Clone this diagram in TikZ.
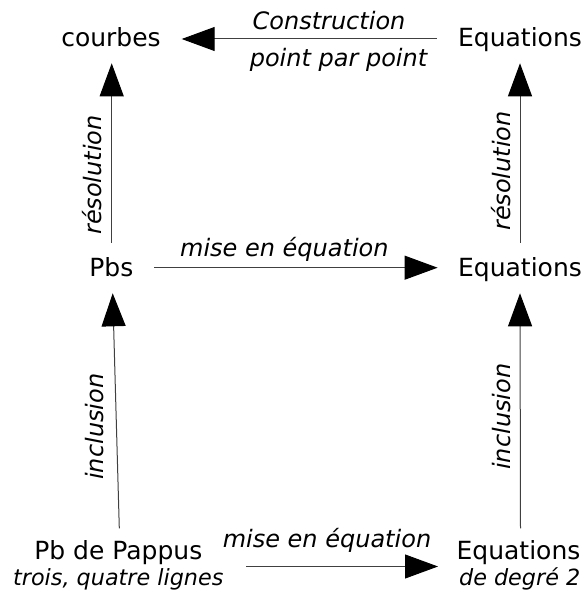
\documentclass[tikz,border=0pt]{standalone}
\usepackage{fontspec}
\setmainfont{DejaVu Sans}
\usetikzlibrary{arrows.meta,calc}
\begin{document}
\begin{tikzpicture}[x=1pt,y=1pt,
  term/.style={anchor=base, inner sep=0pt, font=\fontsize{25}{30}\selectfont},
  note/.style={anchor=base, inner sep=0pt, font=\fontsize{22.3}{26}\selectfont\itshape},
  lbl/.style={anchor=base, inner sep=0pt, font=\fontsize{24}{28}\selectfont\itshape},
  vlbl/.style={lbl, rotate=90},
  arr/.style={-{Triangle[length=33pt,width=24pt,color=black]}, line width=1pt, draw=black!75}]
\useasboundingbox (0,0) rectangle (584,595);

% objects of the diagram
\node[term] (courbes) at (111,548.3) {courbes};
\node[term] (eqTop)   at (520,548.3) {Equations};
\node[term] (pbs)     at (111.3,318.3) {Pbs};
\node[term] (eqMid)   at (520,318.3) {Equations};
\node[term] (pappus)  at (118.3,35) {Pb de Pappus};
\node[note] (pappusSub) at (118.3,9.5) {trois, quatre lignes};
\node[term] (eqBot)   at (518.5,35) {Equations};
\node[note] (eqBotSub) at (519.7,9.5) {de degré 2};

% arrows
\draw[arr] ($(eqTop.base)+(-83.3,7.7)$) -- ($(courbes.base)+(70.7,7.7)$);
\draw[arr] ($(pbs.base)+(0.4,34)$) -- ($(courbes.base)+(0.7,-16.6)$);
\draw[arr] ($(eqMid.base)+(0,34)$) -- ($(eqTop.base)+(0,-16.6)$);
\draw[arr] ($(pbs.base)+(43,9)$) -- ($(eqMid.base)+(-82.4,9)$);
\draw[arr] ($(pappus.base)+(1,31.7)$) -- ($(pbs.base)+(1.4,-16.6)$);
\draw[arr] ($(eqBot.base)+(2,31.7)$) -- ($(eqMid.base)+(0,-16.6)$);
\draw[arr] ($(pappus.base)+(127.7,-6.5)$) -- ($(eqBot.base)+(-80.5,-6.5)$);

% arrow labels
\node[lbl] (lConstr) at (329,565) {Construction};
\node[lbl] (lPoint)  at (338.5,528) {point par point};
\node[lbl] (lMiseA)  at (284.4,338.3) {mise en équation};
\node[lbl] (lMiseB)  at (327,47.5) {mise en équation};
\node[vlbl] (lResA)  at (101.7,420) {résolution};
\node[vlbl] (lResB)  at (510,424) {résolution};
\node[vlbl] (lInclA) at (103.3,168.3) {inclusion};
\node[vlbl] (lInclB) at (510,178.3) {inclusion};
\end{tikzpicture}
\end{document}
